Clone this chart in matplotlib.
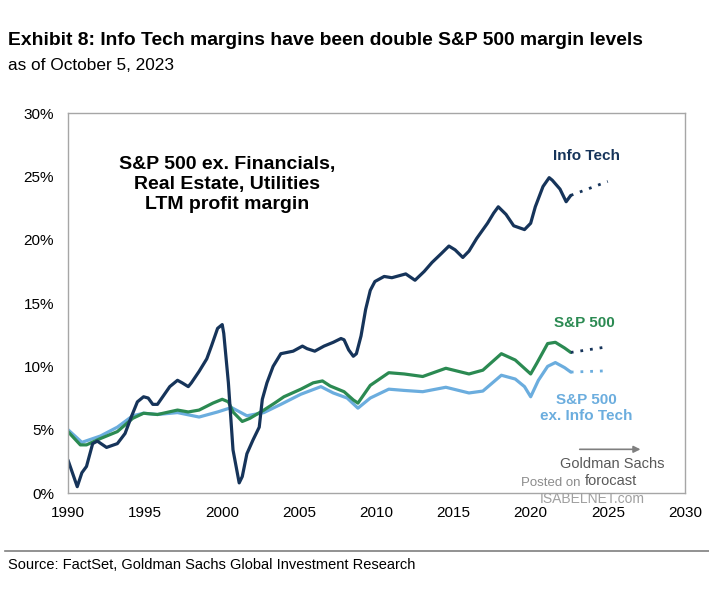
import matplotlib.pyplot as plt
from matplotlib.ticker import FuncFormatter

# Info Tech LTM profit margin (%)
it_years = [1990.0, 1990.6, 1990.9, 1991.2, 1991.6, 1991.9, 1992.5, 1993.2, 1993.7, 1994.1,
            1994.5, 1994.9, 1995.2, 1995.5, 1995.8, 1996.2, 1996.6, 1997.1, 1997.4, 1997.8,
            1998.0, 1998.5, 1999.0, 1999.3, 1999.7, 2000.0, 2000.1, 2000.4, 2000.7, 2001.1,
            2001.3, 2001.6, 2002.0, 2002.4, 2002.6, 2002.9, 2003.3, 2003.8, 2004.2, 2004.6,
            2005.2, 2005.5, 2006.0, 2006.6, 2007.2, 2007.7, 2007.9, 2008.2, 2008.5, 2008.7,
            2009.0, 2009.3, 2009.6, 2009.9, 2010.5, 2011.0, 2011.9, 2012.5, 2013.1, 2013.6,
            2014.2, 2014.7, 2015.1, 2015.6, 2016.0, 2016.5, 2017.2, 2017.6, 2017.9, 2018.4,
            2018.9, 2019.6, 2020.0, 2020.3, 2020.8, 2021.2, 2021.4, 2021.9, 2022.3, 2022.6]
it_vals = [2.6, 0.5, 1.6, 2.1, 3.9, 4.1, 3.6, 3.9, 4.7, 6.0,
           7.2, 7.6, 7.5, 7.0, 7.0, 7.7, 8.4, 8.9, 8.7, 8.4,
           8.7, 9.6, 10.6, 11.6, 13.0, 13.3, 12.6, 8.7, 3.4, 0.8,
           1.3, 3.1, 4.2, 5.2, 7.4, 8.7, 10.0, 11.0, 11.1, 11.2,
           11.6, 11.4, 11.2, 11.6, 11.9, 12.2, 12.1, 11.3, 10.8, 11.0,
           12.4, 14.5, 16.0, 16.7, 17.1, 17.0, 17.3, 16.8, 17.5, 18.2,
           18.9, 19.5, 19.2, 18.6, 19.1, 20.1, 21.3, 22.1, 22.6, 22.0,
           21.1, 20.8, 21.3, 22.6, 24.2, 24.9, 24.7, 24.0, 23.0, 23.5]

# S&P 500
sp_years = [1990.0, 1990.8, 1991.2, 1992.1, 1993.2, 1994.2, 1994.9, 1995.8, 1997.1, 1997.8,
            1998.5, 1999.4, 2000.0, 2000.4, 2000.7, 2001.3, 2001.8, 2002.7, 2003.4, 2004.0,
            2005.1, 2005.9, 2006.5, 2007.0, 2007.9, 2008.5, 2008.8, 2009.6, 2010.8, 2011.8,
            2013.0, 2014.5, 2016.0, 2016.9, 2018.1, 2019.0, 2020.0, 2020.4, 2021.1, 2021.6,
            2022.2, 2022.6]
sp_vals = [4.85, 3.8, 3.8, 4.3, 4.85, 5.9, 6.3, 6.2, 6.55, 6.4,
           6.55, 7.1, 7.4, 7.2, 6.4, 5.65, 5.9, 6.55, 7.1, 7.6,
           8.2, 8.7, 8.85, 8.45, 8.0, 7.35, 7.1, 8.5, 9.5, 9.4,
           9.2, 9.85, 9.4, 9.7, 11.0, 10.5, 9.4, 10.25, 11.8, 11.9,
           11.45, 11.1]

# S&P 500 ex. Info Tech
ex_years = [1990.0, 1990.9, 1992.1, 1993.2, 1994.2, 1994.9, 1995.8, 1997.1, 1998.5, 1999.7,
            2000.6, 2001.6, 2002.7, 2003.8, 2005.1, 2006.4, 2007.2, 2008.1, 2008.8, 2009.6,
            2010.8, 2011.8, 2013.0, 2014.5, 2016.0, 2016.9, 2018.1, 2019.0, 2019.6, 2020.0,
            2020.5, 2021.1, 2021.6, 2022.2, 2022.6]
ex_vals = [5.0, 4.0, 4.5, 5.2, 6.1, 6.3, 6.2, 6.35, 6.0, 6.4,
           6.75, 6.1, 6.35, 7.0, 7.8, 8.4, 7.9, 7.5, 6.7, 7.5,
           8.2, 8.1, 8.0, 8.35, 7.9, 8.05, 9.3, 9.0, 8.4, 7.6,
           8.9, 10.0, 10.3, 9.9, 9.55]

# Goldman Sachs forecast (dotted)
fc_years = [2022.6, 2025.0]
it_fc = [23.5, 24.6]
sp_fc = [11.1, 11.55]
ex_fc = [9.55, 9.65]

navy = '#16345a'
green = '#2b8a52'
light = '#6badde'

plt.rcParams['font.family'] = ['Liberation Sans', 'DejaVu Sans']

fig = plt.figure(figsize=(7.09, 5.92), dpi=100)
ax = fig.add_axes([0.0959, 0.1672, 0.8701, 0.6418])

ax.plot(ex_years, ex_vals, color=light, lw=2.3, solid_capstyle='round')
ax.plot(sp_years, sp_vals, color=green, lw=2.3, solid_capstyle='round')
ax.plot(it_years, it_vals, color=navy, lw=2.3, solid_capstyle='round')

ax.plot(fc_years, it_fc, color=navy, lw=2, ls=(0, (1, 2.5)))
ax.plot(fc_years, sp_fc, color=navy, lw=2, ls=(0, (1, 2.5)))
ax.plot(fc_years, ex_fc, color=light, lw=2, ls=(0, (1, 2.5)))

ax.set_xlim(1990, 2030)
ax.set_ylim(0, 30)
ax.set_xticks(range(1990, 2031, 5))
ax.set_yticks(range(0, 31, 5))
ax.yaxis.set_major_formatter(FuncFormatter(lambda v, p: f'{v:.0f}%'))
ax.tick_params(length=0, labelsize=11)
ax.tick_params(axis='x', pad=9)
ax.tick_params(axis='y', pad=10)
for s in ax.spines.values():
    s.set_color('#a6a6a6')
    s.set_linewidth(1)

ax.text(2000.3, 24.35, 'S&P 500 ex. Financials,\nReal Estate, Utilities\nLTM profit margin',
        ha='center', va='center', fontsize=14, fontweight='bold', linespacing=1.25)
ax.text(2023.6, 26.6, 'Info Tech', color=navy, ha='center', va='center', fontsize=11,
        fontweight='bold')
ax.text(2023.5, 13.4, 'S&P 500', color=green, ha='center', va='center', fontsize=11,
        fontweight='bold')
ax.text(2023.6, 6.7, 'S&P 500\nex. Info Tech', color=light, ha='center', va='center',
        fontsize=11, fontweight='bold', linespacing=1.15)
ax.annotate('', xy=(2027.3, 3.45), xytext=(2023.0, 3.45),
            arrowprops=dict(arrowstyle='-|>', color='#7f7f7f', lw=1.2, mutation_scale=10))
ax.text(2025.3, 2.3, 'Goldman Sachs', color='#595959', ha='center', va='center', fontsize=10.5)
ax.text(2025.2, 0.95, 'forocast', color='#595959', ha='center', va='center', fontsize=10.5)

# watermark
ax.text(2019.4, 0.8, 'Posted on', color='#8c8c8c', ha='left', va='center', fontsize=9.5)
fig.text(0.836, 0.157, 'ISABELNET.com', color='#a0a0a0', ha='center', va='center', fontsize=10)

fig.text(0.011, 0.932, 'Exhibit 8: Info Tech margins have been double S&P 500 margin levels',
         fontsize=13.9, fontweight='bold', va='center')
fig.text(0.011, 0.890, 'as of October 5, 2023', fontsize=12.4, va='center')

fig.add_artist(plt.Line2D([0.007, 1.0], [0.070, 0.070], color='#7f7f7f', lw=1.2))
fig.text(0.011, 0.045, 'Source: FactSet, Goldman Sachs Global Investment Research',
         fontsize=10.5, va='center')

fig.savefig('out.png', dpi=100)
